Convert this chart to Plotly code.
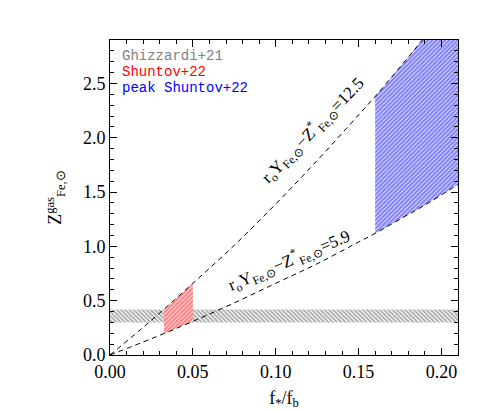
import plotly.graph_objects as go

# model lines
f_grid = [0.0, 0.025, 0.05, 0.075, 0.10, 0.125, 0.15, 0.16, 0.175, 0.19, 0.21]
z_hi = [0.0, 0.32, 0.66, 1.01, 1.39, 1.79, 2.21, 2.38, 2.65, 2.93, 3.32]   # =12.5
z_lo = [0.0, 0.15, 0.31, 0.48, 0.66, 0.84, 1.04, 1.12, 1.25, 1.38, 1.57]   # =5.9

# Ghizzardi+21 band
ghz_f = [0.0, 0.21]
ghz_lo = 0.30
ghz_hi = 0.42

# Shuntov+22 box
shu_f = [0.0325, 0.05]
shu_lo = [0.20, 0.31]
shu_hi = [0.42, 0.66]

# peak Shuntov+22 starts at f=0.16
peak_start = 0.16

font_serif = "Liberation Serif"
font_txt = "Liberation Mono"

fig = go.Figure()

# gray band
fig.add_trace(go.Scatter(
    x=[ghz_f[0], ghz_f[1], ghz_f[1], ghz_f[0]],
    y=[ghz_lo, ghz_lo, ghz_hi, ghz_hi],
    fill='toself', mode='none', fillcolor='rgba(0,0,0,0)',
    fillpattern=dict(shape='\\', fgcolor='#555555', bgcolor='white', size=3, solidity=0.6),
    showlegend=False, hoverinfo='skip'))

# red box
fig.add_trace(go.Scatter(
    x=shu_f + shu_f[::-1],
    y=shu_lo + shu_hi[::-1],
    fill='toself', mode='none', fillcolor='rgba(0,0,0,0)',
    fillpattern=dict(shape='/', fgcolor='#ff0000', bgcolor='white', size=3, solidity=0.75),
    showlegend=False, hoverinfo='skip'))

# blue region
pf = [f for f in f_grid if f >= peak_start]
plo = [z for f, z in zip(f_grid, z_lo) if f >= peak_start]
phi = [z for f, z in zip(f_grid, z_hi) if f >= peak_start]
fig.add_trace(go.Scatter(
    x=pf + pf[::-1],
    y=plo + phi[::-1],
    fill='toself', mode='none', fillcolor='rgba(0,0,0,0)',
    fillpattern=dict(shape='/', fgcolor='#0000ff', bgcolor='white', size=3, solidity=0.75),
    showlegend=False, hoverinfo='skip'))

# dashed lines
for zz in (z_hi, z_lo):
    fig.add_trace(go.Scatter(
        x=f_grid, y=zz, mode='lines',
        line=dict(color='black', width=1, dash='5px,4px', shape='spline'),
        showlegend=False, hoverinfo='skip'))

ann = [
    dict(text='r<sub>o</sub>Y<sub>Fe,⊙</sub>−Z<sup>*</sup><sub>Fe,⊙</sub>=12.5',
         x=0.122, y=2.07, textangle=-46),
    dict(text='r<sub>o</sub>Y<sub>Fe,⊙</sub>−Z<sup>*</sup><sub>Fe,⊙</sub>=5.9',
         x=0.108, y=0.87, textangle=-23),
]
for a in ann:
    fig.add_annotation(xref='x', yref='y', showarrow=False,
                       font=dict(family=font_serif, size=17, color='black'), **a)

leg = [('Ghizzardi+21', '#808080'), ('Shuntov+22', '#ff0000'), ('peak Shuntov+22', '#0000ff')]
for i, (t, c) in enumerate(leg):
    fig.add_annotation(xref='x domain', yref='y domain', x=0.028, y=0.948 - i * 0.05,
                       xanchor='left', yanchor='middle', showarrow=False, text=t,
                       font=dict(family=font_txt, size=14, color=c))

axis_common = dict(
    showgrid=False, zeroline=False, showline=True, linecolor='black', linewidth=1,
    mirror='ticks', ticks='inside', ticklen=7, tickcolor='black',
    tickfont=dict(family=font_serif, size=18, color='black'),
    minor=dict(ticks='inside', ticklen=4, tickcolor='black', showgrid=False),
)

fig.update_xaxes(range=[0, 0.21], tickvals=[0, 0.05, 0.10, 0.15, 0.20],
                 ticktext=['0.00', '0.05', '0.10', '0.15', '0.20'],
                 title=dict(text='f<sub>*</sub>/f<sub>b</sub>', standoff=10,
                            font=dict(family=font_serif, size=18, color='black')),
                 **axis_common)
fig.update_xaxes(minor_dtick=0.01)
fig.update_yaxes(range=[0, 2.9], tickvals=[0, 0.5, 1.0, 1.5, 2.0, 2.5],
                 ticktext=['0.0', '0.5', '1.0', '1.5', '2.0', '2.5'],
                 title=dict(text='Z<sup>gas</sup><sub>Fe,⊙</sub>', standoff=16,
                            font=dict(family=font_serif, size=18, color='black')),
                 **axis_common)
fig.update_yaxes(minor_dtick=0.1)

fig.update_layout(
    width=480, height=411,
    margin=dict(l=102, r=30, t=32, b=64),
    paper_bgcolor='white', plot_bgcolor='white',
)

fig.write_html("out.html")
